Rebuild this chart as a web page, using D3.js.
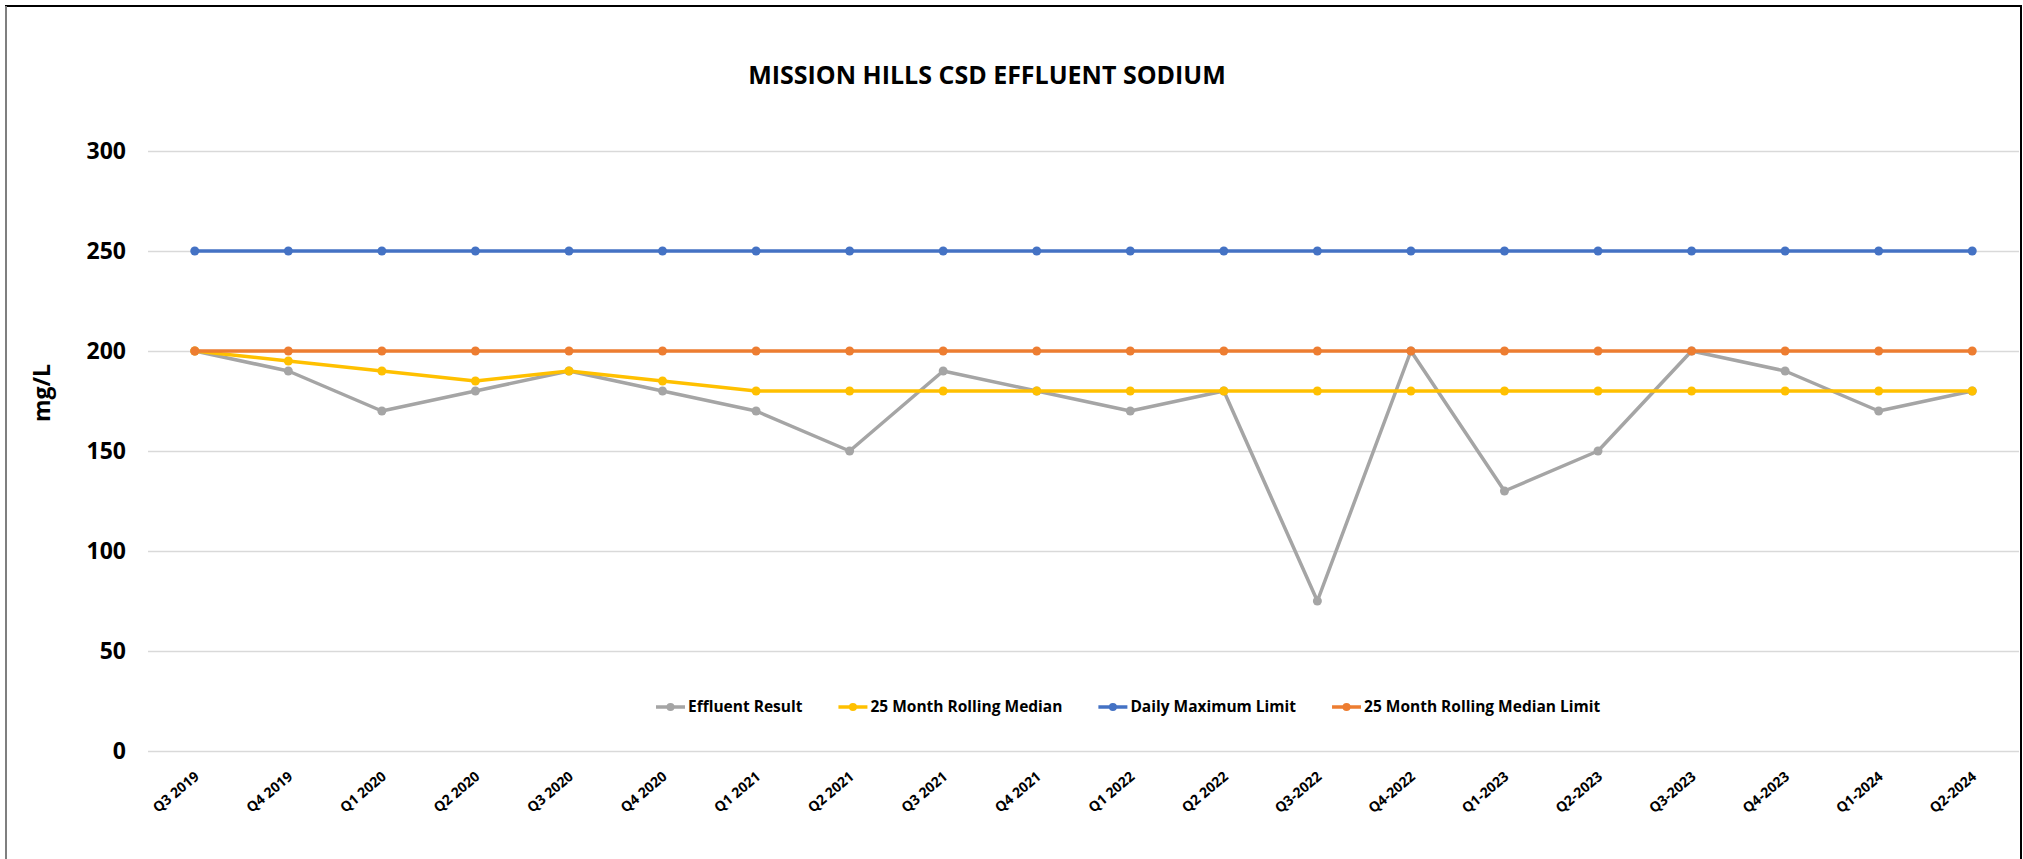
<!DOCTYPE html>
<html lang="en">

<head>
  <meta charset="UTF-8">
  <title>Mission Hills CSD Effluent Sodium</title>
  <script src="https://d3js.org/d3.v7.min.js"></script>
  <style>
    body { margin: 0; background: #fff; }
    text { font-family: "Open Sans", sans-serif; font-weight: bold; fill: #000; }
  </style>
</head>

<body>
</body>
<script>
  const WIDTH = 2023;
  const HEIGHT = 859;

  const quarters = ['Q3 2019', 'Q4 2019', 'Q1 2020', 'Q2 2020', 'Q3 2020', 'Q4 2020',
    'Q1 2021', 'Q2 2021', 'Q3 2021', 'Q4 2021', 'Q1 2022', 'Q2 2022',
    'Q3-2022', 'Q4-2022', 'Q1-2023', 'Q2-2023', 'Q3-2023', 'Q4-2023', 'Q1-2024', 'Q2-2024'];
  const effluent = [200, 190, 170, 180, 190, 180, 170, 150, 190, 180, 170, 180, 75, 200, 130, 150, 200, 190, 170, 180];
  const rollingMedian = [200, 195, 190, 185, 190, 185, 180, 180, 180, 180, 180, 180, 180, 180, 180, 180, 180, 180, 180, 180];
  const dailyMax = [250, 250, 250, 250, 250, 250, 250, 250, 250, 250, 250, 250, 250, 250, 250, 250, 250, 250, 250, 250];
  const medianLimit = [200, 200, 200, 200, 200, 200, 200, 200, 200, 200, 200, 200, 200, 200, 200, 200, 200, 200, 200, 200];
  const yTicks = [0, 50, 100, 150, 200, 250, 300];

  const series = [
    { name: 'Effluent Result', values: effluent, color: '#A5A5A5' },
    { name: '25 Month Rolling Median', values: rollingMedian, color: '#FFC000' },
    { name: 'Daily Maximum Limit', values: dailyMax, color: '#4472C4' },
    { name: '25 Month Rolling Median Limit', values: medianLimit, color: '#ED7D31' }
  ];

  const x = d3.scalePoint()
    .domain(quarters)
    .range([148, 2019])
    .padding(0.5);

  const y = d3.scaleLinear()
    .domain([0, 300])
    .range([751, 151]);

  const svg = d3.select('body')
    .append('svg')
    .attr('width', WIDTH)
    .attr('height', HEIGHT);

  // chart frame
  svg.append('rect')
    .attr('x', 6).attr('y', 6)
    .attr('width', 2015).attr('height', 900)
    .attr('fill', '#fff')
    .attr('stroke', '#000')
    .attr('stroke-width', 2);
  svg.append('line')
    .attr('x1', 6).attr('x2', 6).attr('y1', 6).attr('y2', HEIGHT)
    .attr('stroke', '#7f7f7f').attr('stroke-width', 2);

  svg.append('text')
    .attr('x', 987).attr('y', 84)
    .attr('text-anchor', 'middle')
    .style('font-size', '25px')
    .text('MISSION HILLS CSD EFFLUENT SODIUM');

  // y axis: gridlines + labels
  const yAxis = d3.axisLeft(y)
    .tickValues(yTicks)
    .tickSize(-(2019 - 148))
    .tickPadding(22);

  const gy = svg.append('g')
    .attr('transform', 'translate(148,0)')
    .call(yAxis);
  gy.select('.domain').remove();
  gy.selectAll('.tick line').attr('stroke', '#D9D9D9').attr('stroke-width', 1.5);
  gy.selectAll('.tick text')
    .style('font-size', '23px')
    .style('font-family', '"Open Sans", sans-serif')
    .attr('font-weight', 'bold')
    .attr('fill', '#000');

  svg.append('text')
    .attr('transform', 'translate(50,393) rotate(-90)')
    .attr('text-anchor', 'middle')
    .style('font-size', '23px')
    .text('mg/L');

  // x axis labels
  const xAxis = d3.axisBottom(x).tickSize(0).tickPadding(0);
  const gx = svg.append('g')
    .attr('transform', 'translate(0,770)')
    .call(xAxis);
  gx.select('.domain').remove();
  gx.selectAll('.tick text')
    .style('font-size', '14px')
    .style('font-family', '"Open Sans", sans-serif')
    .attr('font-weight', 'bold')
    .attr('fill', '#000')
    .attr('text-anchor', 'end')
    .attr('y', 0)
    .attr('dy', '0.75em')
    .attr('transform', 'translate(-2,0) rotate(-40)');

  // series lines and markers
  const line = d3.line()
    .x((d, i) => x(quarters[i]))
    .y(d => y(d));

  series.forEach(s => {
    const g = svg.append('g');
    g.append('path')
      .datum(s.values)
      .attr('d', line)
      .attr('fill', 'none')
      .attr('stroke', s.color)
      .attr('stroke-width', 3.5)
      .attr('stroke-linejoin', 'round');
    g.selectAll('circle')
      .data(s.values)
      .enter()
      .append('circle')
      .attr('cx', (d, i) => x(quarters[i]))
      .attr('cy', d => y(d))
      .attr('r', 4.5)
      .attr('fill', s.color);
  });

  // legend
  const legend = svg.append('g').attr('transform', 'translate(0,707)');
  let lx = 656;
  series.forEach(s => {
    const item = legend.append('g').attr('transform', `translate(${lx},0)`);
    item.append('line')
      .attr('x1', 0).attr('x2', 29)
      .attr('stroke', s.color).attr('stroke-width', 3.5);
    item.append('circle')
      .attr('cx', 14.5).attr('r', 4).attr('fill', s.color);
    const t = item.append('text')
      .attr('x', 32).attr('dy', '0.35em')
      .style('font-size', '15.5px')
      .text(s.name);
    lx += 32 + t.node().getComputedTextLength() + 36;
  });
</script>

</html>
